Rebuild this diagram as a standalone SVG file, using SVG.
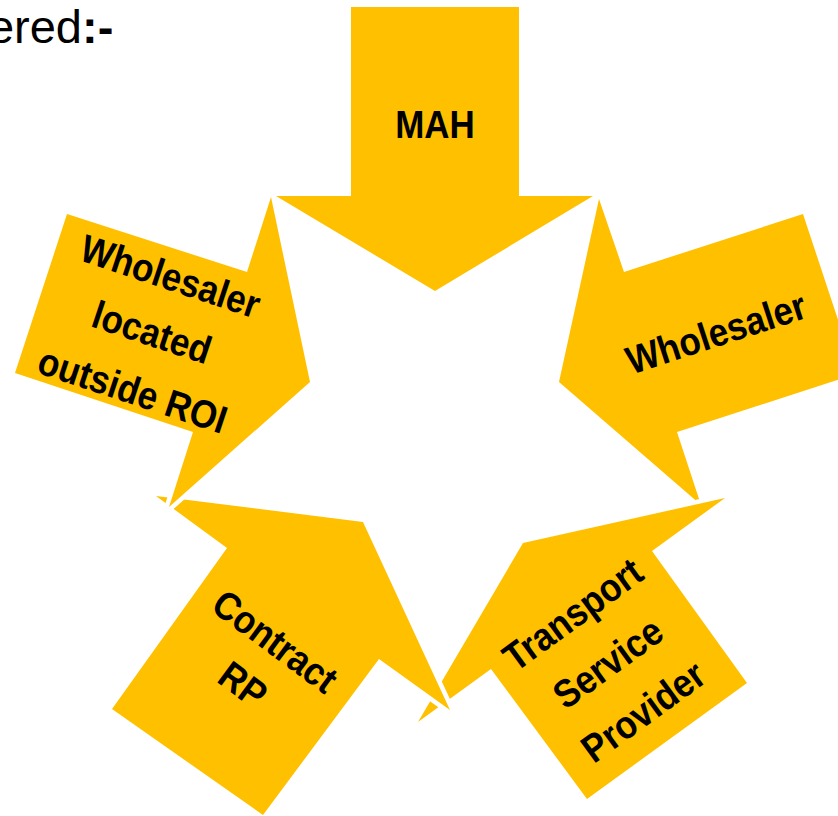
<svg xmlns="http://www.w3.org/2000/svg" width="838" height="816" viewBox="0 0 838 816">
  <style>
    .arrow { fill: #FFC000; stroke: #FFFFFF; stroke-width: 9; stroke-linejoin: round; paint-order: stroke; }
    .label { font-family: "Liberation Sans", Arial, sans-serif; font-size: 35px; font-weight: bold; fill: #000000; text-anchor: middle; }
    .heading { font-family: "Liberation Sans", Arial, sans-serif; font-size: 47px; fill: #000000; }
  </style>
  <rect width="838" height="816" fill="#FFFFFF"/>

  <!-- heading fragment at the top-left edge -->
  <text class="heading" x="82" y="43" text-anchor="end">ered</text>
  <text class="heading" x="82" y="43" font-weight="bold">:-</text>

  <!-- five block arrows pointing to the centre, drawn clockwise from the top;
       labels are set slightly tall (scale 1 x 1.12) -->
  <g id="arrow-mah">
    <polygon class="arrow" points="351,7 519,7 519,196 593,196 435,291 276,196 351,196"/>
    <text class="label" transform="translate(435,138) scale(1,1.12)">MAH</text>
  </g>

  <g id="arrow-wholesaler">
    <polygon class="arrow" points="599,199 624,272 803,214 856,374 677,432 701,505 559,382"/>
    <g transform="translate(716,333) rotate(-18)">
      <text class="label" transform="translate(0,13.5) scale(1,1.12)">Wholesaler</text>
    </g>
  </g>

  <g id="arrow-transport">
    <polygon class="arrow" points="523,543 725,498 652,551 747,683 587,799 491,669 418,722"/>
    <g transform="translate(608,663) rotate(-36)">
      <text class="label" transform="translate(0,-46.5) scale(1,1.12)">Transport</text>
      <text class="label" transform="translate(0,13.5) scale(1,1.12)">Service</text>
      <text class="label" transform="translate(0,73.5) scale(1,1.12)">Provider</text>
    </g>
  </g>

  <g id="arrow-contract-rp">
    <polygon class="arrow" points="156,496 363,522 450,710 379,659 263,815 112,709 227,548"/>
    <g transform="translate(259,663) rotate(36.5)">
      <text class="label" transform="translate(0,-13.5) scale(1,1.12)">Contract</text>
      <text class="label" transform="translate(0,40.5) scale(1,1.12)">RP</text>
    </g>
  </g>

  <g id="arrow-wholesaler-outside-roi">
    <polygon class="arrow" points="67,214 247,272 271,197 310,382 169,507 193,432 15,373"/>
    <g transform="translate(152,332) rotate(18.4)">
      <text class="label" transform="translate(0,-45) scale(1,1.12)">Wholesaler</text>
      <text class="label" transform="translate(0,14) scale(1,1.12)">located</text>
      <text class="label" transform="translate(0,75) scale(1,1.12)">outside ROI</text>
    </g>
  </g>
</svg>
